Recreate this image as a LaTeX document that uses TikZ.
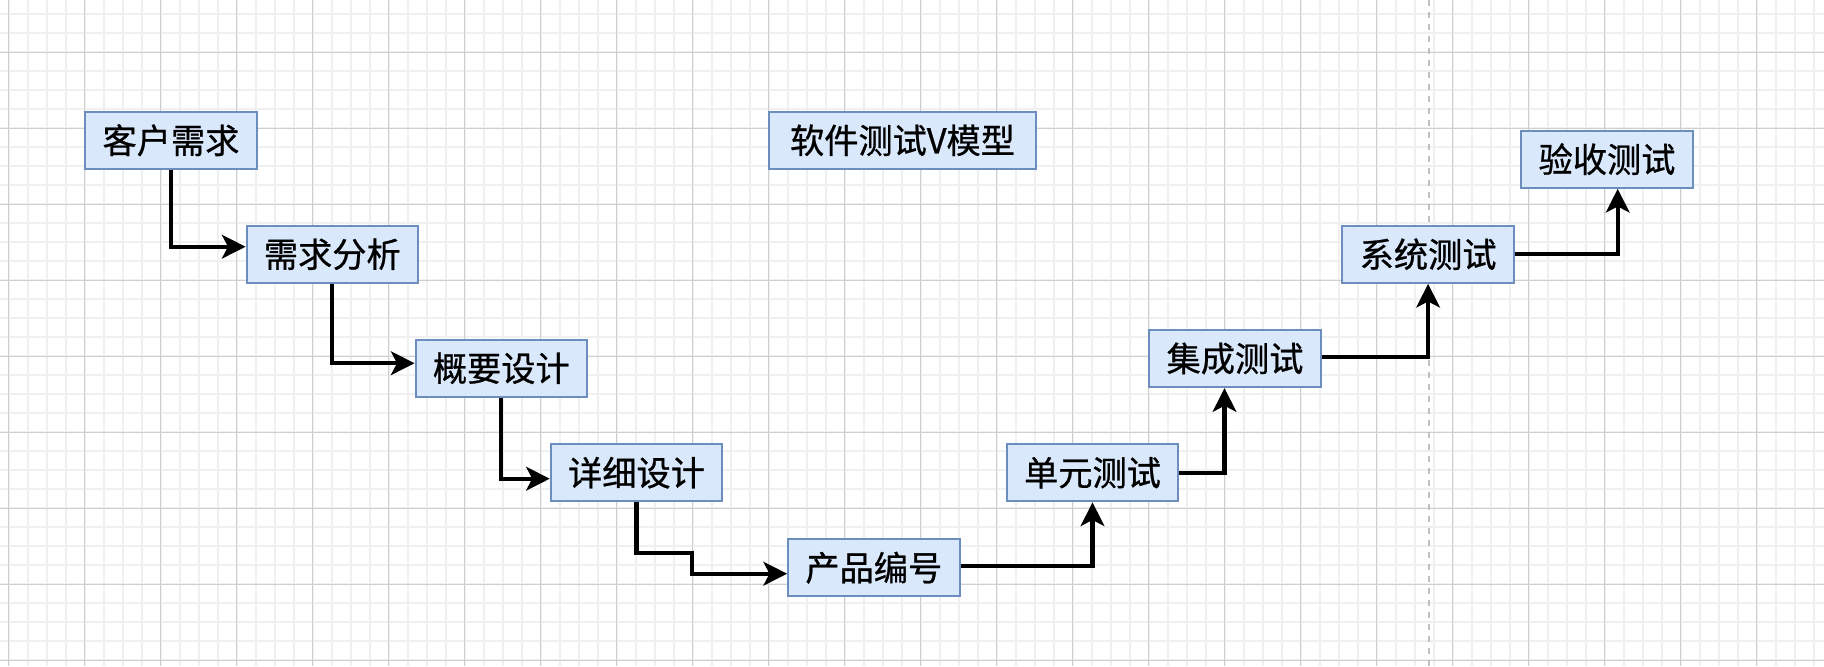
\documentclass[tikz,border=0pt]{standalone}
\usepackage{fontspec}
\newfontfamily\cjk[FakeBold=0.8]{Noto Sans CJK SC}
\usetikzlibrary{arrows.meta,calc}
\definecolor{fcol}{HTML}{DAE8FC}
\definecolor{bcol}{HTML}{6C8EBF}
\definecolor{gminor}{HTML}{F0F0F0}
\definecolor{gmajor}{HTML}{CFCFCF}
\definecolor{dcol}{HTML}{C0C0C0}
\tikzset{
  stagebox/.style={draw=bcol, fill=fcol, line width=1pt, minimum width=85.7pt, minimum height=28.65pt, inner sep=0pt, font=\cjk\fontsize{17.1pt}{20pt}\selectfont, text=black},
  titlebox/.style={stagebox, minimum width=133.2pt},
  arr/.style={line width=2.1pt, black, -{Stealth[length=11.8pt,width=11.8pt,inset=3pt]}},
  vline/.style={draw=dcol, line width=1pt, dash pattern=on 3pt off 3pt},
  minorline/.style={draw=gminor, line width=1pt},
  majorline/.style={draw=gmajor, line width=0.6pt}
}
\begin{document}
\begin{tikzpicture}[x=0.5pt,y=-0.5pt]
\useasboundingbox (0,0) rectangle (1824,666);
\fill[white] (0,0) rectangle (1824,666);
% grid
\foreach \i in {0,...,95} { \draw[minorline] ({8.5+19*\i},0) -- ({8.5+19*\i},666); }
\foreach \j in {0,...,34} { \draw[minorline] (0,{14.3+19*\j}) -- (1824,{14.3+19*\j}); }
\foreach \i in {0,...,23} { \draw[majorline] ({8.5+76*\i},0) -- ({8.5+76*\i},666); }
\foreach \j in {0,...,8} { \draw[majorline] (0,{52.3+76*\j}) -- (1824,{52.3+76*\j}); }
% dashed divider
\coordinate (dtop) at (1429,0);
\coordinate (dbot) at (1429,666);
\draw[vline] (dtop) -- (dbot);
% nodes
\node[stagebox] (k1) at (171,140.3) {客户需求};
\node[stagebox] (k2) at (332.3,254.2) {需求分析};
\node[stagebox] (k3) at (501.3,368.2) {概要设计};
\node[stagebox] (k4) at (636.5,472.7) {详细设计};
\node[stagebox] (k5) at (873.8,567.7) {产品编号};
\node[stagebox] (k6) at (1092.5,472.7) {单元测试};
\node[stagebox] (k7) at (1235,358.5) {集成测试};
\node[stagebox] (k8) at (1428.1,254.2) {系统测试};
\node[stagebox] (k9) at (1607,159.2) {验收测试};
\node[titlebox] (t) at (902.5,140.3) {软件测试V模型};
% connectors
\coordinate (b1) at (692.1,553);
\draw[arr] (k1.south) |- ($(k2.west)+(0,-7.5)$);
\draw[arr] (k2.south) |- ($(k3.west)+(0,-5)$);
\draw[arr] (k3.south) |- ($(k4.west)+(0,6)$);
\draw[arr] (k4.south) |- (b1) |- ($(k5.west)+(0,6)$);
\draw[arr] ($(k5.east)+(0,-1.4)$) -| (k6.south);
\draw[arr] (k6.east) -| ($(k7.south)+(-10.5,0)$);
\draw[arr] ($(k7.east)+(0,-1.5)$) -| (k8.south);
\draw[arr] (k8.east) -| ($(k9.south)+(10.7,0)$);
\end{tikzpicture}
\end{document}
